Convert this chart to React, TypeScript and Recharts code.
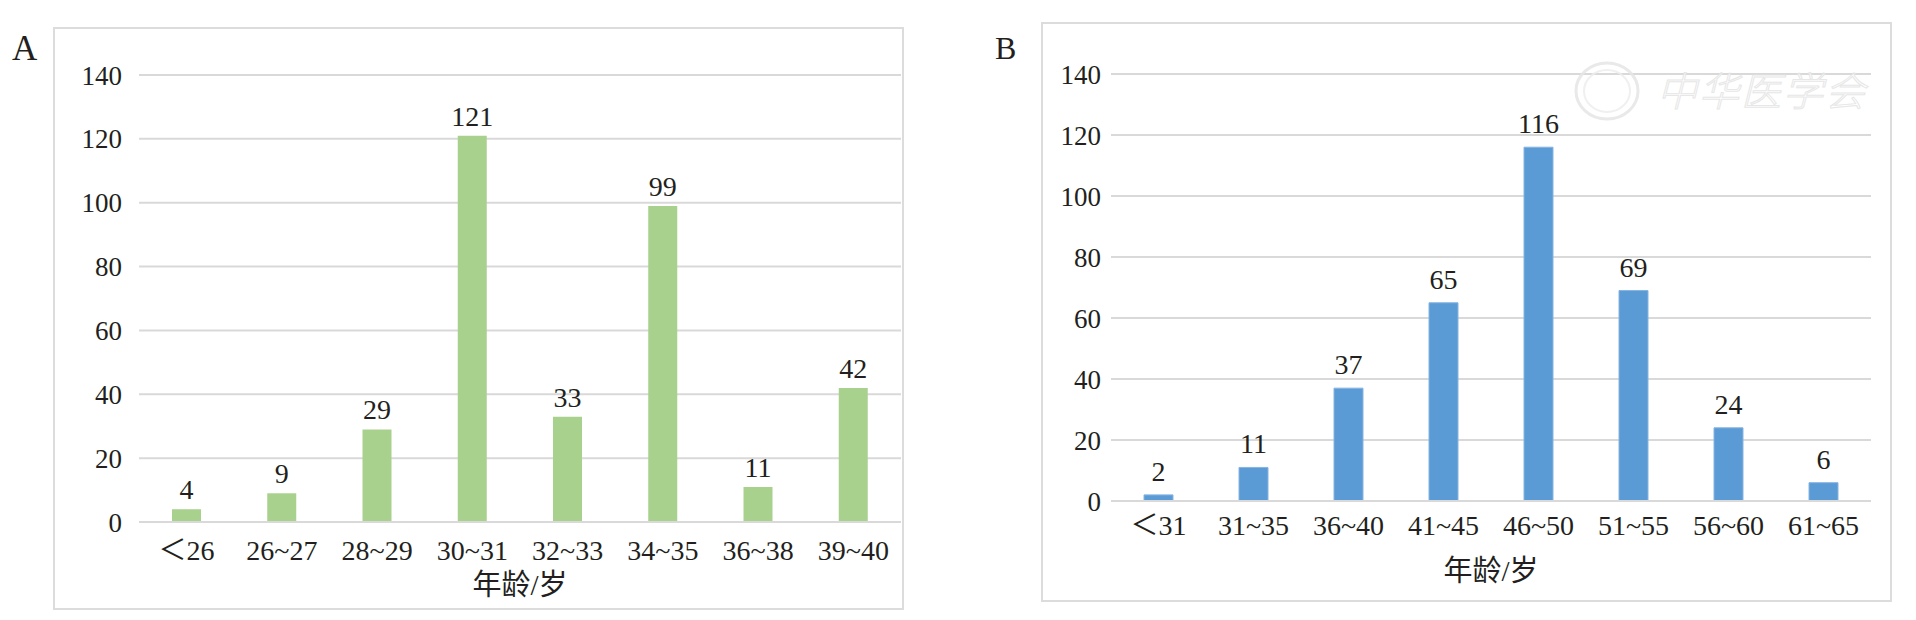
import React from 'react';
import { BarChart, Bar, XAxis, YAxis, CartesianGrid, LabelList } from 'recharts';

const categoriesA = ['＜26', '26~27', '28~29', '30~31', '32~33', '34~35', '36~38', '39~40'];
const valuesA = [4, 9, 29, 121, 33, 99, 11, 42];
const categoriesB = ['＜31', '31~35', '36~40', '41~45', '46~50', '51~55', '56~60', '61~65'];
const valuesB = [2, 11, 37, 65, 116, 69, 24, 6];
const yTicks = [0, 20, 40, 60, 80, 100, 120, 140];
const axisTitle = '年龄/岁';
const panelLabels = ['A', 'B'];
const watermarkText = '中华医学会';

const dataA = categoriesA.map((c, i) => ({ name: c, value: valuesA[i] }));
const dataB = categoriesB.map((c, i) => ({ name: c, value: valuesB[i] }));

const FONT = "'Liberation Serif', 'Times New Roman', 'Noto Sans CJK SC', serif";
const TEXT = '#231f20';
const GRID = '#d9d9d9';

type PanelProps = {
  data: { name: string; value: number }[];
  left: number;
  top: number;
  width: number;
  height: number;
  marginTop: number;
  marginRight: number;
  yWidth: number;
  yTickMargin: number;
  xHeight: number;
  xTickMargin: number;
  titleOffset: number;
  color: string;
  stroke?: string;
  labelOffset: number;
};

function Panel(p: PanelProps) {
  return (
    <>
      <div
        style={{
          position: 'absolute',
          left: p.left,
          top: p.top,
          width: p.width,
          height: p.height,
          border: '2px solid #dcdcdc',
          boxSizing: 'border-box',
        }}
      />
      <div style={{ position: 'absolute', left: p.left, top: p.top }}>
        <BarChart
          width={p.width}
          height={p.height}
          data={p.data}
          margin={{ top: p.marginTop, right: p.marginRight, left: 0, bottom: 0 }}
          barSize={29}
        >
          <CartesianGrid horizontal vertical={false} stroke={GRID} strokeWidth={2} />
          <XAxis
            dataKey="name"
            interval={0}
            height={p.xHeight}
            tickLine={false}
            axisLine={{ stroke: GRID, strokeWidth: 2 }}
            tickMargin={p.xTickMargin}
            tick={{ fontSize: 28, fill: TEXT, fontFamily: FONT }}
            label={{
              value: axisTitle,
              position: 'insideBottom',
              offset: p.titleOffset,
              fontSize: 29,
              fill: TEXT,
              fontFamily: FONT,
            }}
          />
          <YAxis
            width={p.yWidth}
            domain={[0, 140]}
            ticks={yTicks}
            interval={0}
            tickLine={false}
            axisLine={false}
            tickMargin={p.yTickMargin}
            tick={{ fontSize: 27, fill: TEXT, fontFamily: FONT }}
          />
          <Bar
            dataKey="value"
            fill={p.color}
            stroke={p.stroke}
            strokeWidth={p.stroke ? 1 : 0}
            isAnimationActive={false}
          >
            <LabelList
              dataKey="value"
              position="top"
              offset={p.labelOffset}
              style={{ fontSize: 28, fill: TEXT, fontFamily: FONT }}
            />
          </Bar>
        </BarChart>
      </div>
    </>
  );
}

export default function App() {
  return (
    <div
      style={{
        position: 'absolute',
        left: 0,
        top: 0,
        width: 1916,
        height: 620,
        background: '#ffffff',
        fontFamily: FONT,
      }}
    >
      <Panel
        data={dataA}
        left={53}
        top={27}
        width={851}
        height={583}
        marginTop={48}
        marginRight={3}
        yWidth={86}
        yTickMargin={11}
        xHeight={88}
        xTickMargin={12}
        titleOffset={15}
        color="#a9d18e"
        labelOffset={10}
      />
      <Panel
        data={dataB}
        left={1041}
        top={22}
        width={851}
        height={580}
        marginTop={52}
        marginRight={21}
        yWidth={70}
        yTickMargin={4}
        xHeight={101}
        xTickMargin={8}
        titleOffset={21}
        color="#5b9bd5"
        stroke="#86b4e2"
        labelOffset={14}
      />
      <svg
        width={1916}
        height={620}
        style={{ position: 'absolute', left: 0, top: 0, pointerEvents: 'none' }}
      >
        <text x={12} y={60} fontSize={35} fill={TEXT} fontFamily={FONT}>
          {panelLabels[0]}
        </text>
        <text x={995} y={59} fontSize={32} fill={TEXT} fontFamily={FONT}>
          {panelLabels[1]}
        </text>
        <g opacity={0.85}>
          <ellipse cx={1607} cy={91} rx={31} ry={28} fill="none" stroke="#e6e6e6" strokeWidth={3} />
          <ellipse cx={1607} cy={91} rx={23} ry={21} fill="none" stroke="#eeeeee" strokeWidth={2} />
          <text
            x={1657}
            y={106}
            fontSize={40}
            fill="#ffffff"
            stroke="#e3e3e3"
            strokeWidth={1}
            fontStyle="italic"
            fontWeight={300}
            fontFamily="'Noto Sans CJK SC', sans-serif"
            letterSpacing={2}
          >
            {watermarkText}
          </text>
        </g>
      </svg>
    </div>
  );
}
